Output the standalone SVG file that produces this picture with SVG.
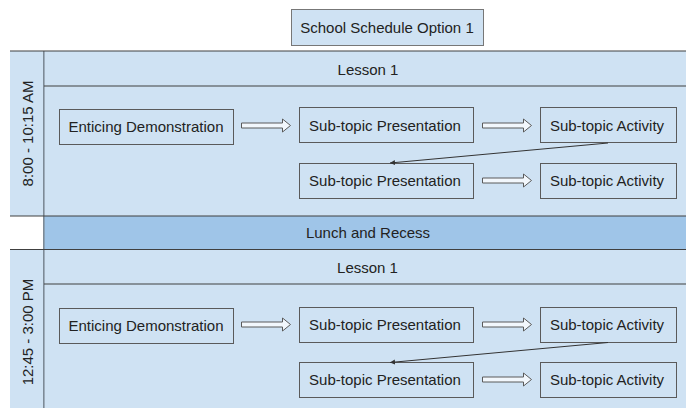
<svg xmlns="http://www.w3.org/2000/svg" xmlns:xlink="http://www.w3.org/1999/xlink" width="686" height="408" viewBox="0 0 686 408">
<style>
text{font-family:"Liberation Sans",Arial,sans-serif;font-size:15px;fill:#222;text-anchor:middle}
.pool{fill:#cfe2f3;stroke:none}
.dark{stroke:#404040;stroke-width:1.2;fill:none}
.div{stroke:#7d8a96;stroke-width:1.6;fill:none}
.box{fill:#cfe2f3;stroke:#5a5a5a;stroke-width:1}
.blk{fill:#f2f7fc;stroke:#5a5a5a;stroke-width:1}
.con{stroke:#333;stroke-width:1;fill:none}
</style>
<defs>
<path id="blk" d="M0,-2.5 H41 V-6.5 L49,0 L41,6.5 V2.5 H0 Z"/>
<marker id="ah" markerWidth="6" markerHeight="6" refX="5" refY="3" orient="auto" markerUnits="userSpaceOnUse">
<path d="M0,0.5 L5,3 L0,5.5 Z" fill="#333"/>
</marker>
</defs>
<g id="title">
<rect x="291.5" y="9.5" width="192" height="36" fill="#cfe2f3" stroke="#777"/>
<text x="387" y="33">School Schedule Option 1</text>
</g>
<g id="lanes">
<rect class="pool" x="10" y="51" width="676" height="165"/>
<rect x="44" y="216" width="642" height="33" fill="#9fc5e8"/>
<rect class="pool" x="10" y="249" width="676" height="159"/>
<line class="div" x1="43.8" y1="51" x2="43.8" y2="408"/>
<line class="dark" x1="10" y1="51" x2="686" y2="51"/>
<line class="dark" x1="44" y1="86" x2="686" y2="86"/>
<line class="dark" x1="10" y1="216" x2="686" y2="216"/>
<line class="dark" x1="10" y1="249.5" x2="686" y2="249.5"/>
<line class="dark" x1="44" y1="284" x2="686" y2="284"/>
<text transform="translate(32.5,133.5) rotate(-90)">8:00 - 10:15 AM</text>
<text x="368" y="75">Lesson 1</text>
<text x="368" y="238">Lunch and Recess</text>
<text transform="translate(32.5,332) rotate(-90)">12:45 - 3:00 PM</text>
<text x="367.5" y="273">Lesson 1</text>
</g>
<g id="n1"><rect class="box" x="59.5" y="109.5" width="174" height="35"/><text x="146" y="132">Enticing Demonstration</text></g>
<g id="n2"><rect class="box" x="299.5" y="107.5" width="174" height="35"/><text x="385" y="130.5">Sub-topic Presentation</text></g>
<g id="n3"><rect class="box" x="540.5" y="107.5" width="136" height="35"/><text x="607" y="130.5">Sub-topic Activity</text></g>
<g id="n4"><rect class="box" x="299.5" y="163.5" width="174" height="35"/><text x="385" y="186">Sub-topic Presentation</text></g>
<g id="n5"><rect class="box" x="540.5" y="163.5" width="136" height="35"/><text x="607" y="186">Sub-topic Activity</text></g>
<g id="n6"><rect class="box" x="59.5" y="308.5" width="174" height="35"/><text x="146" y="331">Enticing Demonstration</text></g>
<g id="n7"><rect class="box" x="299.5" y="307.5" width="174" height="35"/><text x="385" y="330">Sub-topic Presentation</text></g>
<g id="n8"><rect class="box" x="540.5" y="307.5" width="136" height="35"/><text x="607" y="330">Sub-topic Activity</text></g>
<g id="n9"><rect class="box" x="299.5" y="362.5" width="174" height="35"/><text x="385" y="385">Sub-topic Presentation</text></g>
<g id="n10"><rect class="box" x="540.5" y="362.5" width="136" height="35"/><text x="607" y="385">Sub-topic Activity</text></g>
<g id="connectors">
<use href="#blk" xlink:href="#blk" class="blk" x="241.5" y="125.5"/>
<use href="#blk" xlink:href="#blk" class="blk" x="482.5" y="125.5"/>
<use href="#blk" xlink:href="#blk" class="blk" x="482.5" y="180.5"/>
<use href="#blk" xlink:href="#blk" class="blk" x="241.5" y="324.5"/>
<use href="#blk" xlink:href="#blk" class="blk" x="482.5" y="324.5"/>
<use href="#blk" xlink:href="#blk" class="blk" x="482.5" y="379.5"/>
<line class="con" x1="608" y1="143" x2="390" y2="163" marker-end="url(#ah)"/>
<line class="con" x1="608" y1="342.5" x2="390" y2="362.5" marker-end="url(#ah)"/>
</g>
</svg>
